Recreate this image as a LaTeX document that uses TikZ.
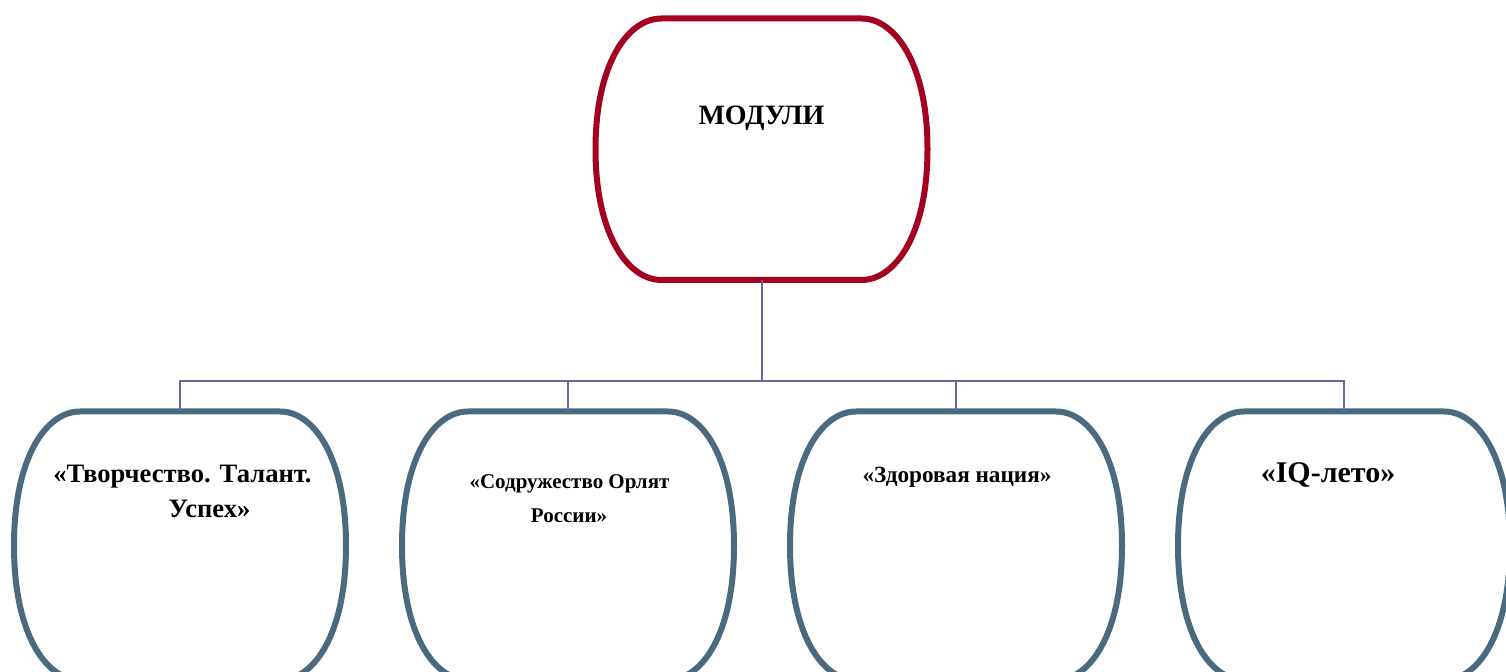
\documentclass[tikz,border=0pt]{standalone}
\usepackage{fontspec}
\setmainfont{Liberation Serif}
\usetikzlibrary{calc}
\definecolor{modred}{HTML}{A30022}
\definecolor{modblue}{HTML}{4B6A80}
\definecolor{linkcol}{HTML}{6A66A2}
\newcommand{\hw}{166}
\newcommand{\ins}{66}
% box with straight top and bottom, bulging sides
\newcommand{\modbox}[4]{%
  \draw[#4, line width=3pt, line join=round] ({#1-\hw+\ins}, #2) -- ({#1+\hw-\ins}, #2)
    .. controls ({#1+\hw-\ins+34}, #2) and ({#1+\hw}, {#2+46}) .. ({#1+\hw}, {(#2+#3)/2})
    .. controls ({#1+\hw}, {#3-46}) and ({#1+\hw-\ins+34}, #3) .. ({#1+\hw-\ins}, #3)
    -- ({#1-\hw+\ins}, #3)
    .. controls ({#1-\hw+\ins-34}, #3) and ({#1-\hw}, {#3-46}) .. ({#1-\hw}, {(#2+#3)/2})
    .. controls ({#1-\hw}, {#2+46}) and ({#1-\hw+\ins-34}, #2) .. cycle;}

\begin{document}
\begin{tikzpicture}[x=0.5pt, y=-0.5pt,
    link/.style={draw=linkcol, line width=1pt},
    label/.style={inner sep=0pt, anchor=base, font=\bfseries}]
        \useasboundingbox (0, 0) rectangle (1506, 672);
        \clip (0, 0) rectangle (1506, 672);
        % boxes
        \modbox{761.5}{18.5}{280}{modred}
        \foreach \x in {180, 568, 956, 1344} {
            \modbox{\x}{411.5}{680}{modblue}
        }
        % connectors
        \coordinate (root) at (761.5, 280);
        \coordinate (bus) at (761.5, 381);
        \coordinate (m1) at (180, 411.5);
        \coordinate (m2) at (568, 411.5);
        \coordinate (m3) at (956, 411.5);
        \coordinate (m4) at (1344, 411.5);
        \draw[link] (root) -- (bus);
        \foreach \m in {m1, m2, m3, m4} {
            \draw[link] (\m) -- (\m |- bus) -- (bus);
        }
        % labels
        \node[label, font=\bfseries\fontsize{14}{16}\selectfont] (title) at (761.5, 125) {МОДУЛИ};
        \node[label, font=\bfseries\fontsize{13.3}{17}\selectfont] (t1a) at (182.5, 483) {«Творчество. Талант.};
        \node[label, font=\bfseries\fontsize{13.3}{17}\selectfont] (t1b) at (209.5, 518) {Успех»};
        \node[label, font=\bfseries\fontsize{10.5}{17}\selectfont] (t2a) at (569.5, 489) {«Содружество Орлят};
        \node[label, font=\bfseries\fontsize{10.5}{17}\selectfont] (t2b) at (569, 523) {России»};
        \node[label, font=\bfseries\fontsize{11.6}{17}\selectfont] (t3) at (957, 483) {«Здоровая нация»};
        \node[label, font=\bfseries\fontsize{15}{17}\selectfont] (t4) at (1328, 483) {«IQ-лето»};
    \end{tikzpicture}
\end{document}
